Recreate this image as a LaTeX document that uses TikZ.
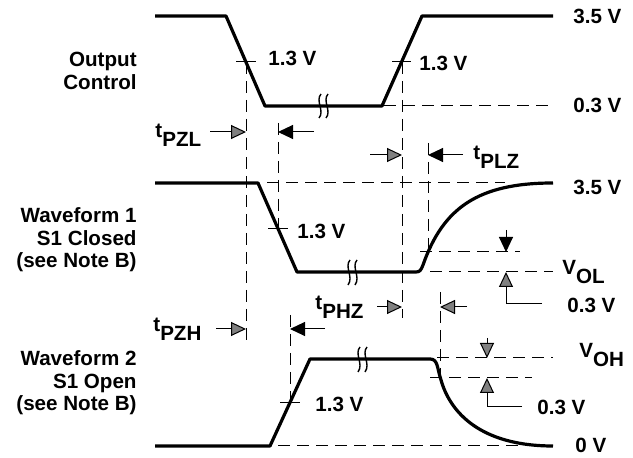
\documentclass[tikz,border=0pt]{standalone}
\usepackage{fontspec}
\setmainfont{Liberation Sans}
\usetikzlibrary{arrows.meta}

\begin{document}
\begin{tikzpicture}[
    x=0.5pt, y=-0.5pt,
    wave/.style={line width=1.6pt, line join=round},
    guide/.style={line width=0.5pt, dash pattern=on 6pt off 3.5pt},
    tickline/.style={line width=0.5pt},
    brk/.style={line width=0.7pt},
    txt/.style={font=\fontsize{10.3}{11.2}\selectfont\bfseries, inner sep=0pt},
    darrow/.style={-{Triangle[length=7.5pt,width=7pt]}, line width=0.5pt},
    garrow/.style={-{Triangle[length=7.5pt,width=7pt,fill=black!50]}, line width=0.5pt}
]
\useasboundingbox (0,0) rectangle (633,458);

% Left labels
\node[txt, align=right, anchor=east] (lblOC) at (137,71) {Output\\Control};
\node[txt, align=right, anchor=east] (lblW1) at (137,240) {Waveform 1\\S1 Closed\\(see Note B)};
\node[txt, align=right, anchor=east] (lblW2) at (137,383) {Waveform 2\\S1 Open\\(see Note B)};

% Output Control
\draw[wave] (155,16) -- (226,16) -- (265,106) -- (382,106) -- (422,16) -- (553,16);
\draw[brk] (321,94) .. controls (315,101) and (325,111) .. (319,118);
\draw[brk] (328,94) .. controls (322,101) and (332,111) .. (326,118);

% Waveform 1
\draw[wave] (155,183) -- (258,183) -- (297,272) -- (416,272)
    .. controls (420,272) and (421,270) .. (423,265)
    .. controls (443,208) and (478,183) .. (553,183);
\draw[brk] (350,260) .. controls (344,267) and (354,277) .. (348,285);
\draw[brk] (357,260) .. controls (351,267) and (361,277) .. (355,285);

% Waveform 2
\draw[wave] (155,446) -- (270,446) -- (310,359) -- (430,359)
    .. controls (438,359) and (437,368) .. (441,380)
    .. controls (450,412) and (480,446) .. (553,446);
\draw[brk] (360,347) .. controls (354,354) and (364,364) .. (358,372);
\draw[brk] (367,347) .. controls (361,354) and (371,364) .. (365,372);

% Horizontal guides
\draw[guide] (384,106) -- (553,106);
\draw[guide] (267,183) -- (505,183);
\draw[guide] (420,252) -- (520,252);
\draw[guide] (430,272) -- (553,272);
\draw[guide] (437,358) -- (553,358);
\draw[guide] (430,378) -- (532,378);
\draw[guide] (278,446) -- (520,446);

% Vertical guides
\draw[guide] (246,62) -- (246,343);
\draw[guide] (278,123) -- (278,237);
\draw[guide] (402,62) -- (402,318);
\draw[guide] (428,143) -- (428,252);
\draw[guide] (290,315) -- (290,403);
\draw[guide] (440,292) -- (440,378);

% 1.3 V crossings
\draw[tickline] (236,62) -- (256,62);
\draw[tickline] (392,62) -- (411,62);
\draw[tickline] (268,229) -- (288,229);
\draw[tickline] (280,403) -- (300,403);
\node[txt, anchor=west] (c13a) at (268,58) {1.3 V};
\node[txt, anchor=west] (c13b) at (419,63) {1.3 V};
\node[txt, anchor=west] (c13c) at (297,231) {1.3 V};
\node[txt, anchor=west] (c13d) at (315,404) {1.3 V};

% Delay arrows
\draw[garrow] (210,132) -- (246,132);
\draw[darrow] (314,132) -- (278,132);
\draw[garrow] (370,155) -- (402,155);
\draw[darrow] (463,155) -- (428,155);
\draw[garrow] (216,329) -- (246,329);
\draw[darrow] (325,329) -- (290,329);
\draw[garrow] (377,307) -- (402,307);
\draw[garrow] (467,307) -- (440,307);
\node[txt, anchor=base west] (tpzl) at (155,138) {t\raisebox{-4.5pt}{PZL}};
\node[txt, anchor=base west] (tplz) at (473,160) {t\raisebox{-4.5pt}{PLZ}};
\node[txt, anchor=base west] (tpzh) at (153,332) {t\raisebox{-4.5pt}{PZH}};
\node[txt, anchor=base west] (tphz) at (315,310) {t\raisebox{-4.5pt}{PHZ}};

% 0.3 V offsets
\draw[darrow] (506,230) -- (506,252);
\draw[garrow] (542,304) -- (506,304) -- (506,272);
\draw[garrow] (487,338) -- (487,358);
\draw[garrow] (522,407) -- (487,407) -- (487,378);

% Right labels
\node[txt, anchor=west] (v35a) at (573,16) {3.5 V};
\node[txt, anchor=west] (v03a) at (573,105) {0.3 V};
\node[txt, anchor=west] (v35b) at (573,187) {3.5 V};
\node[txt, anchor=base west] (vol) at (562,275) {V\raisebox{-4.5pt}{OL}};
\node[txt, anchor=west] (v03b) at (567,305) {0.3 V};
\node[txt, anchor=base west] (voh) at (579,358) {V\raisebox{-4.5pt}{OH}};
\node[txt, anchor=west] (v03c) at (537,407) {0.3 V};
\node[txt, anchor=west] (v0) at (575,445) {0 V};

\end{tikzpicture}
\end{document}
